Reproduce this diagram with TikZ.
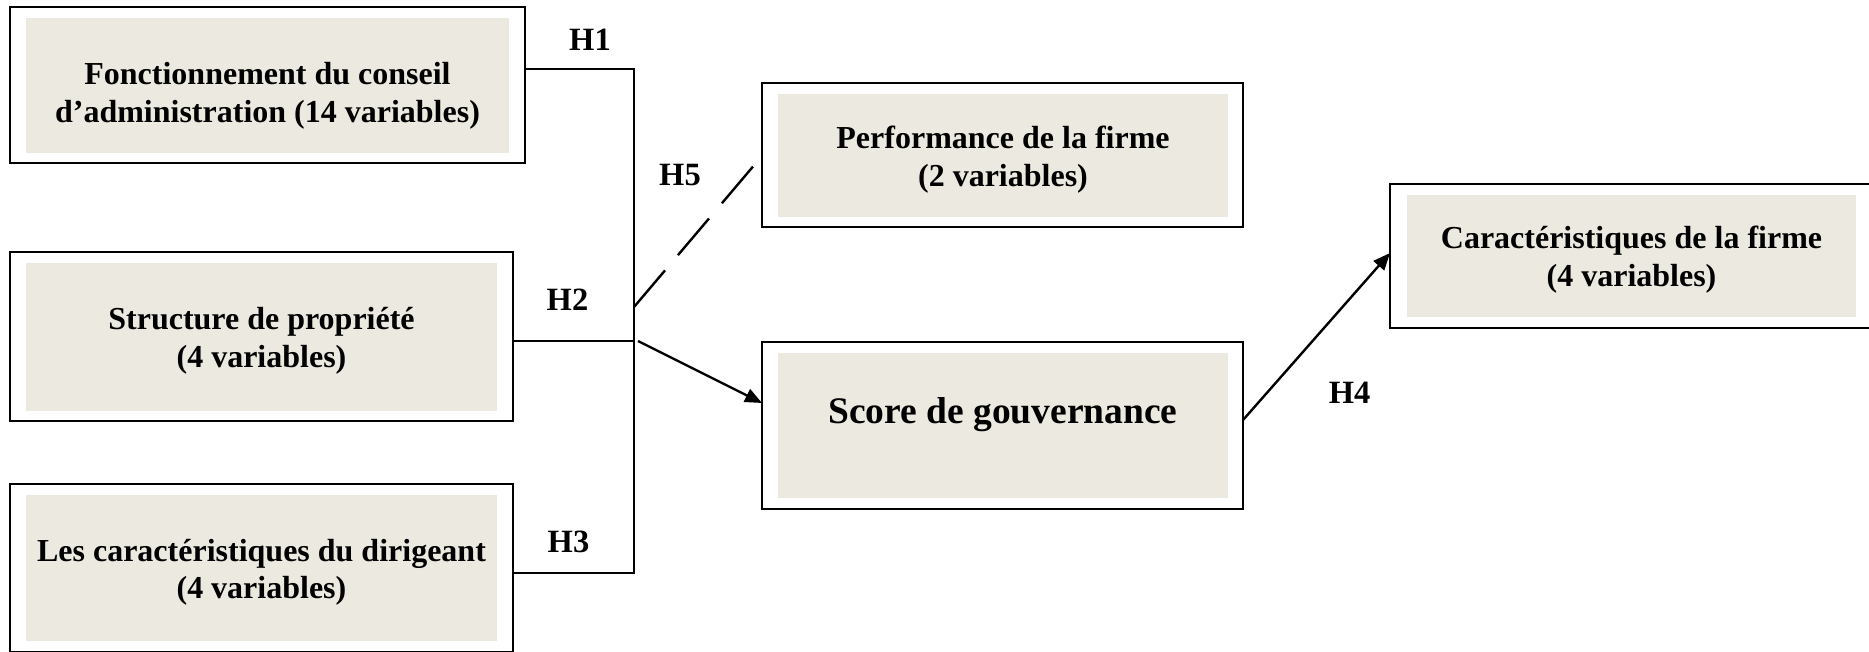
\documentclass[tikz,border=0pt]{standalone}
\usepackage{fontspec}
\setmainfont{Liberation Serif}
\usetikzlibrary{arrows.meta}
\definecolor{panelbg}{RGB}{236,234,224}
\newcommand\boxtxtfont{\fontsize{32}{37.5}\selectfont\bfseries}
\newcommand\labeltxtfont{\fontsize{32.5}{39}\selectfont\bfseries}
\newcommand\scoretxtfont{\fontsize{37.5}{44}\selectfont\bfseries}
\begin{document}
\begin{tikzpicture}[x=1pt,y=-1pt,
  frame/.style={draw, line width=2.6pt, inner sep=0pt, outer sep=0pt},
  panel/.style={fill=panelbg, inner sep=0pt, outer sep=0pt},
  boxtext/.style={inner sep=0pt, align=center, font=\boxtxtfont},
  hlabel/.style={inner sep=0pt, font=\labeltxtfont},
  link/.style={line width=2.4pt},
  arr/.style={line width=2.4pt, -{Triangle[length=17pt,width=14pt]}}]
\useasboundingbox (0,0) rectangle (1869,651);

% left column: the three groups of governance variables
\node[frame, minimum width=515pt, minimum height=156pt] (fonct) at (267.5,85) {};
\node[panel, minimum width=483pt, minimum height=135pt] (fonctIn) at (267.5,85.5) {};
\node[boxtext] (fonctTxt) at (267.5,96)
  {Fonctionnement du conseil\\d’administration (14 variables)};

\node[frame, minimum width=503pt, minimum height=169pt] (struct) at (261.5,336.5) {};
\node[panel, minimum width=471pt, minimum height=148pt] (structIn) at (261.5,337) {};
\node[boxtext] (structTxt) at (261.5,341)
  {Structure de propriété\\(4 variables)};

\node[frame, minimum width=503pt, minimum height=168pt] (dirig) at (261.5,568) {};
\node[panel, minimum width=471pt, minimum height=146pt] (dirigIn) at (261.5,568) {};
\node[boxtext] (dirigTxt) at (261.5,572.5)
  {Les caractéristiques du dirigeant\\(4 variables)};

% middle column
\node[frame, minimum width=481pt, minimum height=144pt] (perf) at (1002.5,155) {};
\node[panel, minimum width=450pt, minimum height=123pt] (perfIn) at (1003,155.5) {};
\node[boxtext] (perfTxt) at (1003,159.5)
  {Performance de la firme\\(2 variables)};

\node[frame, minimum width=481pt, minimum height=167pt] (score) at (1002.5,425.5) {};
\node[panel, minimum width=450pt, minimum height=145pt] (scoreIn) at (1003,425.5) {};
\node[inner sep=0pt, font=\scoretxtfont] (scoreTxt) at (1003,414.5) {Score de gouvernance};

% right column
\node[frame, minimum width=482pt, minimum height=144pt] (caract) at (1631,256) {};
\node[panel, minimum width=449pt, minimum height=122pt] (caractIn) at (1631.5,256) {};
\node[boxtext] (caractTxt) at (1631.5,259.5)
  {Caractéristiques de la firme\\(4 variables)};

% collecting trunk
\coordinate (tTop) at (634,69);
\coordinate (tMid) at (634,341);
\coordinate (tBot) at (634,573);
\coordinate (tDash) at (634,307);
\coordinate (dashEnd) at (756,163);

\draw[link, line join=miter] (fonct.east |- tTop) -- (tTop) -- (tBot) -- (dirig.east |- tBot);
\draw[link] (struct.east |- tMid) -- (tMid);
\draw[link, dash pattern=on 48pt off 20pt] (tDash) -- (dashEnd);
\draw[arr] ([xshift=4pt]tMid) -- (score.west |- 0,403);
\draw[arr] (score.east |- 0,420) -- (caract.west |- 0,253);

% hypothesis labels
\node[hlabel] (h1) at (590,40) {H1};
\node[hlabel] (h2) at (567.5,300) {H2};
\node[hlabel] (h3) at (568.5,542) {H3};
\node[hlabel] (h4) at (1349.5,393) {H4};
\node[hlabel] (h5) at (680,175.5) {H5};
\end{tikzpicture}
\end{document}
